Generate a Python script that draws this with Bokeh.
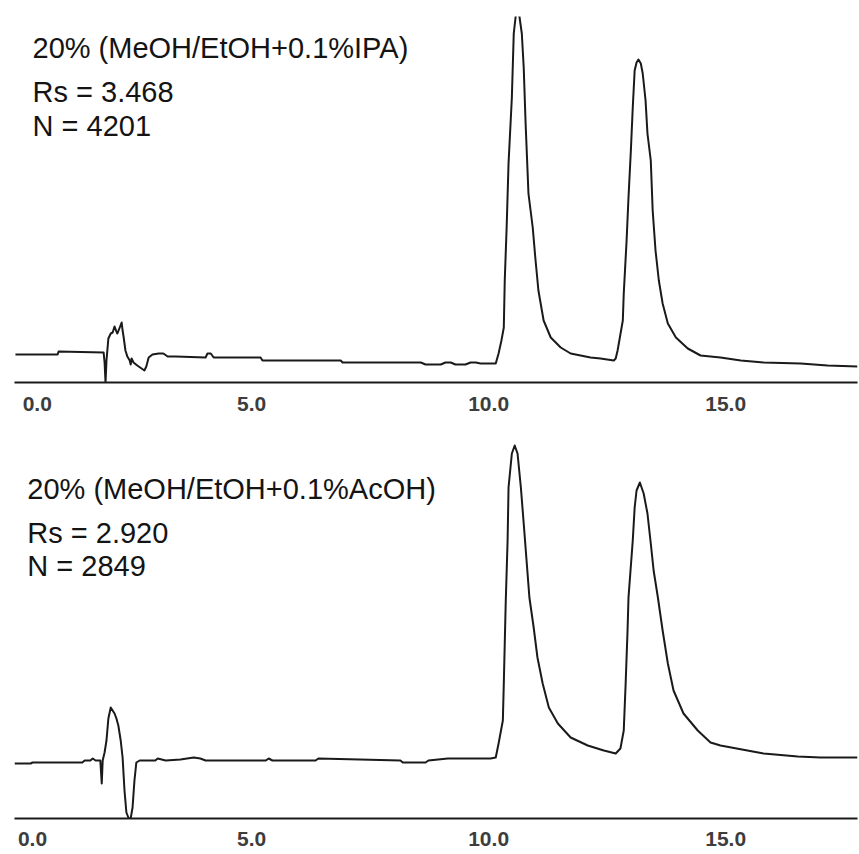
from bokeh.plotting import figure
from bokeh.layouts import column
from bokeh.models import Range1d, FixedTicker, Label
from bokeh.embed import file_html
from bokeh.resources import INLINE

# ---------------- data (retention time in min, detector signal in arbitrary units) ----------------
tick_values = [0, 5, 10, 15]
tick_labels = ["0.0", "5.0", "10.0", "15.0"]

title_ipa = "20% (MeOH/EtOH+0.1%IPA)"
rs_ipa = "Rs = 3.468"
n_ipa = "N = 4201"

title_acoh = "20% (MeOH/EtOH+0.1%AcOH)"
rs_acoh = "Rs = 2.920"
n_acoh = "N = 2849"

time_ipa = [
    0.02, 0.91, 0.93, 1.88, 1.90, 1.92, 1.94, 1.98, 2.03, 2.07,
    2.11, 2.15, 2.17, 2.22, 2.26, 2.28, 2.30, 2.34, 2.38, 2.43,
    2.45, 2.47, 2.51, 2.59, 2.68, 2.74, 2.78, 2.83, 2.91, 3.04,
    3.14, 3.23, 3.40, 4.03, 4.07, 4.14, 4.20, 5.19, 5.23, 6.88,
    6.92, 8.57, 8.67, 8.99, 9.09, 9.20, 9.30, 9.51, 9.62, 9.73,
    9.83, 10.15, 10.21, 10.27, 10.32, 10.34, 10.38, 10.42, 10.49, 10.53,
    10.57, 10.61, 10.65, 10.70, 10.74, 10.78, 10.84, 10.93, 10.99, 11.05,
    11.16, 11.31, 11.52, 11.73, 11.94, 12.15, 12.36, 12.64, 12.68, 12.72,
    12.83, 12.85, 12.91, 12.95, 13.00, 13.04, 13.08, 13.12, 13.16, 13.21,
    13.25, 13.31, 13.35, 13.42, 13.46, 13.52, 13.59, 13.67, 13.78, 13.95,
    14.20, 14.47, 14.89, 15.32, 15.80, 16.58, 17.15, 17.78,
]
signal_ipa = [
    28, 28, 31, 30, 20, 0, 22, 44, 49, 50,
    56, 51, 49, 55, 60, 52, 46, 32, 26, 22,
    18, 24, 20, 17, 14, 12, 16, 25, 28, 29,
    29, 26, 26, 25, 29, 29, 25, 25, 22, 22,
    20, 20, 18, 18, 20, 20, 18, 18, 20, 20,
    19, 19, 29, 42, 55, 102, 155, 219, 285, 349,
    366, 376, 366, 349, 315, 259, 189, 155, 122, 92,
    62, 45, 35, 29, 27, 25, 24, 22, 24, 32,
    62, 89, 142, 185, 232, 275, 312, 320, 323, 319,
    309, 282, 249, 222, 172, 132, 102, 79, 59, 45,
    34, 27, 25, 22, 20, 19, 17, 16,
]

time_acoh = [
    0.00, 0.34, 0.38, 1.43, 1.48, 1.60, 1.65, 1.71, 1.81, 1.84,
    1.86, 1.90, 1.94, 1.98, 2.03, 2.07, 2.11, 2.15, 2.19, 2.24,
    2.28, 2.32, 2.36, 2.41, 2.45, 2.49, 2.53, 2.57, 2.64, 2.97,
    3.02, 3.19, 3.50, 3.78, 3.92, 4.03, 5.30, 5.36, 5.44, 6.35,
    6.41, 8.14, 8.19, 8.67, 8.73, 9.14, 10.04, 10.15, 10.21, 10.30,
    10.32, 10.34, 10.36, 10.40, 10.42, 10.49, 10.55, 10.61, 10.68, 10.74,
    10.80, 10.86, 10.95, 11.03, 11.14, 11.27, 11.46, 11.73, 12.09, 12.43,
    12.68, 12.78, 12.85, 12.89, 12.93, 12.95, 13.04, 13.08, 13.12, 13.19,
    13.27, 13.35, 13.42, 13.48, 13.57, 13.67, 13.78, 13.90, 14.11, 14.41,
    14.68, 14.89, 15.80, 16.52, 17.00, 17.78,
]
signal_acoh = [
    55, 55, 56, 56, 58, 58, 60, 58, 58, 35,
    58, 66, 78, 100, 111, 108, 105, 100, 93, 78,
    61, 28, 6, 0, 0, 11, 38, 56, 58, 58,
    60, 58, 59, 61, 60, 58, 58, 60, 58, 58,
    60, 58, 56, 56, 58, 60, 60, 61, 75, 98,
    135, 175, 215, 278, 331, 365, 373, 365, 331, 295,
    258, 221, 191, 161, 135, 111, 95, 81, 73, 68,
    65, 70, 88, 135, 188, 221, 278, 311, 328, 336,
    325, 305, 275, 248, 221, 188, 155, 128, 105, 88,
    76, 73, 65, 62, 61, 61,
]

# ---------------- styling / layout ----------------
FONT = "Liberation Sans"
X_END = 17.78


def make_panel(t, s, texts, text_x, text_y, height, border_top, border_bottom,
               y_end, first_label_shift, standoff):
    p = figure(width=859, height=height, output_backend="svg", toolbar_location=None,
               x_range=Range1d(0, X_END), y_range=Range1d(0, y_end),
               y_axis_location=None, min_border_left=14, min_border_right=2,
               min_border_top=border_top, min_border_bottom=border_bottom)
    p.outline_line_color = None
    p.background_fill_color = "white"
    p.border_fill_color = "white"
    p.xgrid.visible = False
    p.ygrid.visible = False

    p.line(t, s, line_color="#1a1a1a", line_width=2, line_join="round")

    positions = [v + (first_label_shift if i == 0 else 0) for i, v in enumerate(tick_values)]
    ax = p.xaxis[0]
    ax.ticker = FixedTicker(ticks=positions, minor_ticks=[])
    ax.major_label_overrides = {pos: lab for pos, lab in zip(positions, tick_labels)}
    ax.major_tick_out = 0
    ax.major_tick_in = 0
    ax.minor_tick_out = 0
    ax.minor_tick_in = 0
    ax.axis_line_color = "#1a1a1a"
    ax.axis_line_width = 2
    ax.major_label_text_font = FONT
    ax.major_label_text_font_size = "21px"
    ax.major_label_text_font_style = "bold"
    ax.major_label_text_color = "#3d3d3d"
    ax.major_label_standoff = standoff

    for txt, ty in zip(texts, text_y):
        p.add_layout(Label(x=text_x, y=ty, text=txt, text_font=FONT,
                           text_font_size="29px", text_color="#141414",
                           text_baseline="alphabetic", text_align="left"))
    return p


p1 = make_panel(time_ipa, signal_ipa, [title_ipa, rs_ipa, n_ipa], 0.38, [335, 291, 257],
                height=426, border_top=16, border_bottom=44, y_end=366,
                first_label_shift=0.48, standoff=14)
p2 = make_panel(time_acoh, signal_acoh, [title_acoh, rs_acoh, n_acoh], 0.27, [330, 286, 253],
                height=428, border_top=4, border_bottom=36, y_end=388,
                first_label_shift=0.38, standoff=13)

layout = column(p1, p2, spacing=0)
open("out.html", "w").write(file_html(layout, INLINE))
